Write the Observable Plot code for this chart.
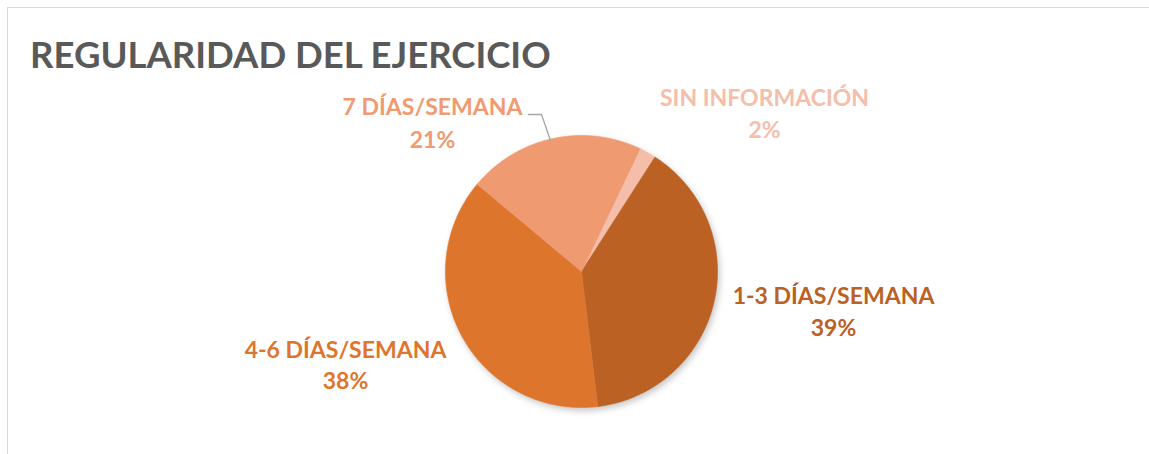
<!DOCTYPE html>
<html><head><meta charset="utf-8">
<script src="https://cdn.jsdelivr.net/npm/d3@7"></script>
<script src="https://cdn.jsdelivr.net/npm/@observablehq/plot@0.6"></script>
<style>
html,body{margin:0;padding:0;background:#fff;}
#wrap{position:relative;width:1149px;height:454px;overflow:hidden;background:#fff;}
#frame{position:absolute;left:7px;top:7px;width:1300px;height:600px;border:1.5px solid #d9d9d9;box-sizing:border-box;}
#title{position:absolute;left:30px;top:36px;font:bold 36.5px Lato, "Open Sans", sans-serif;line-height:36.5px;color:#595959;white-space:nowrap;transform-origin:0 0;}
#chart{position:absolute;left:0;top:0;}
</style></head>
<body>
<div id="wrap"><div id="frame"></div><div id="chart"></div><div id="title">REGULARIDAD DEL EJERCICIO</div></div>
<script>
// ---- data ----
const categories = ["SIN INFORMACIÓN", "1-3 DÍAS/SEMANA", "4-6 DÍAS/SEMANA", "7 DÍAS/SEMANA"];
const percents = [2, 39, 38, 21];
// ---- style ----
const colors = ["#F5BEAA", "#BA6123", "#DE752D", "#F09A71"];
const startDeg = 25.5;
const cx = 581, cy = 271, R = 136;
const toX = px => (px - cx) / R, toY = py => (cy - py) / R;
const labelAt = {
  "7 DÍAS/SEMANA": [432, 114, 147],
  "SIN INFORMACIÓN": [764, 105, 137],
  "1-3 DÍAS/SEMANA": [833, 303, 335],
  "4-6 DÍAS/SEMANA": [345, 357, 388]
};
const leaderPx = [[528, 114], [541, 114], [550, 140]];

// ---- geometry ----
const total = d3.sum(percents);
let acc = 0;
const slicePts = [];
categories.forEach((c, i) => {
  const a0 = startDeg + acc / total * 360; acc += percents[i];
  const a1 = startDeg + acc / total * 360;
  slicePts.push({cat: c, x: 0, y: 0});
  const n = Math.max(4, Math.ceil((a1 - a0) * 2));
  for (let k = 0; k <= n; k++) {
    const a = (a0 + (a1 - a0) * k / n) * Math.PI / 180;
    slicePts.push({cat: c, x: Math.sin(a), y: Math.cos(a)});
  }
  slicePts.push({cat: c, x: 0, y: 0});
});
const labels = categories.map((c, i) => ({cat: c, pct: percents[i] + "%", x: toX(labelAt[c][0]), y1: toY(labelAt[c][1]), y2: toY(labelAt[c][2])}));
const leader = leaderPx.map(([px, py]) => ({x: toX(px), y: toY(py)}));

const font = 'Lato, "Open Sans", sans-serif';
const chart = Plot.plot({
  width: 1149, height: 454, margin: 0,
  style: {background: "transparent", overflow: "visible"},
  x: {domain: [-1, 1], range: [cx - R, cx + R], axis: null},
  y: {domain: [-1, 1], range: [cy + R, cy - R], axis: null},
  color: {domain: categories, range: colors},
  marks: [
    Plot.line(slicePts, {x: "x", y: "y", z: "cat", fill: "cat", stroke: "cat", strokeWidth: 0.6, curve: "linear"}),
    Plot.line(leader, {x: "x", y: "y", stroke: "#a6a6a6", strokeWidth: 1.3}),
    Plot.text(labels, {x: "x", y: "y1", text: "cat", fill: "cat", fontSize: 23, fontWeight: "bold", fontFamily: font, textAnchor: "middle", lineAnchor: "bottom"}),
    Plot.text(labels, {x: "x", y: "y2", text: "pct", fill: "cat", fontSize: 23, fontWeight: "bold", fontFamily: font, textAnchor: "middle", lineAnchor: "bottom"})
  ]
});
document.getElementById("chart").appendChild(chart);
const pie = chart.querySelector('g[aria-label="line"]');
if (pie) pie.style.filter = "drop-shadow(2px 3px 3px rgba(0,0,0,0.22))";
</script>
</body></html>
